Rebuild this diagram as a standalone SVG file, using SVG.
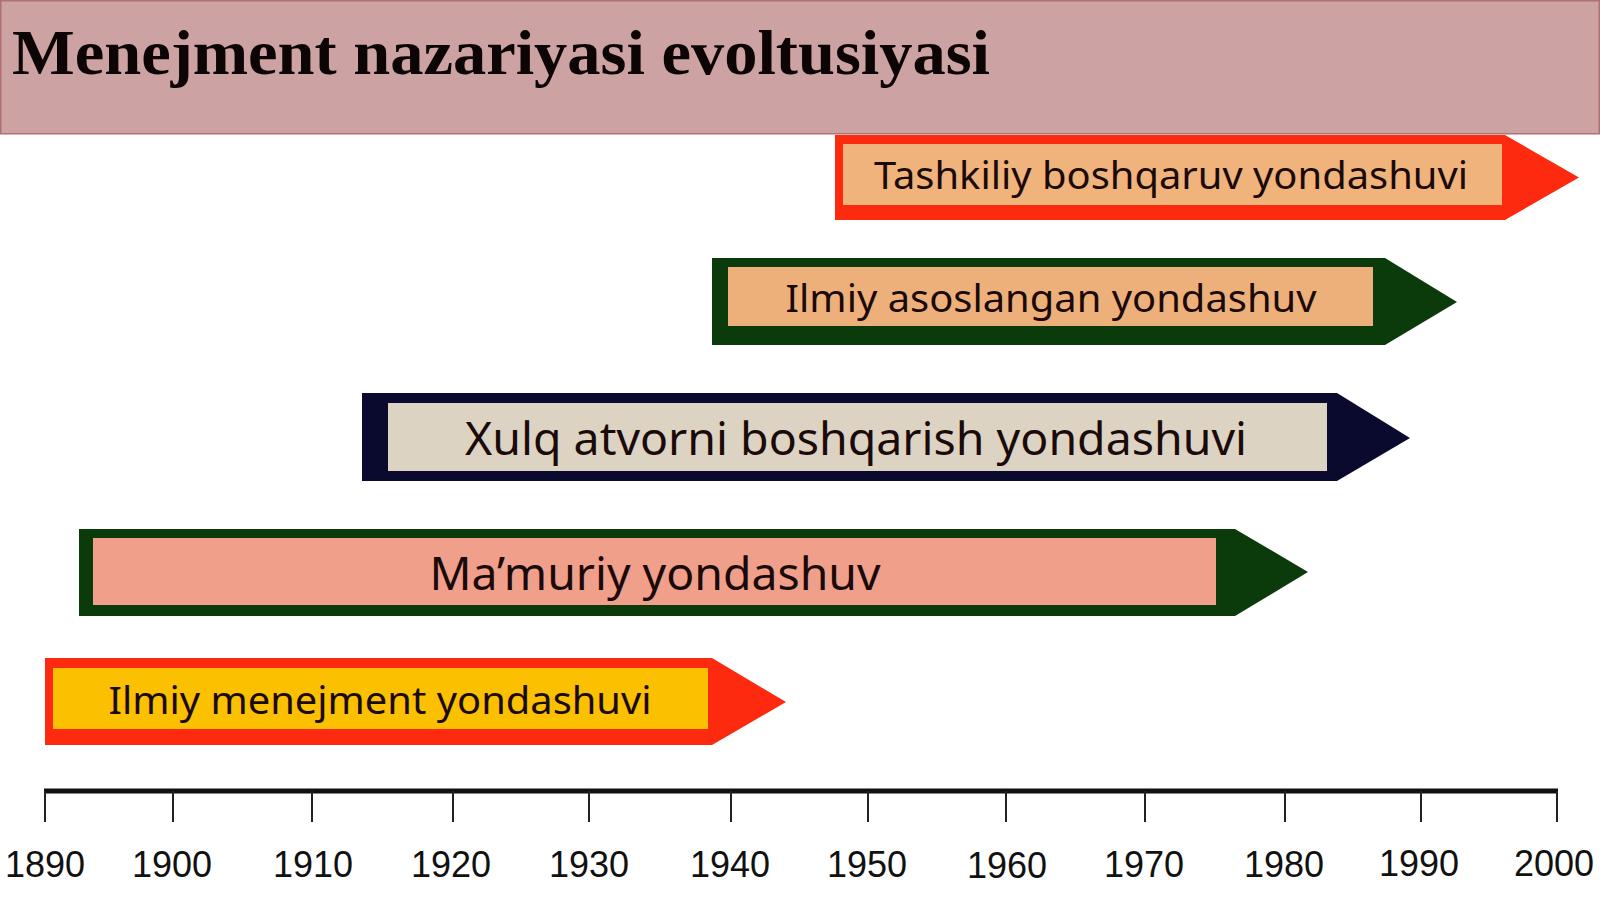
<svg xmlns="http://www.w3.org/2000/svg" width="1600" height="899" viewBox="0 0 1600 899">
<style>
.lbl{font-family:"Noto Sans","Open Sans",sans-serif;fill:#1a0a0a;text-anchor:middle}
.yr{font-family:"Liberation Sans",Arial,sans-serif;font-size:36px;fill:#111;text-anchor:middle}
.tick{stroke:#222;stroke-width:2}
</style>
<rect width="1600" height="899" fill="#ffffff"/>
<g id="header">
<rect x="0.75" y="0.75" width="1598.5" height="133" fill="#cca3a2" stroke="#b07070" stroke-width="1.5"/>
<text x="12" y="73.5" font-family="'Liberation Serif','Times New Roman',serif" font-weight="bold" font-size="63" fill="#0d0505" textLength="978" lengthAdjust="spacingAndGlyphs">Menejment nazariyasi evoltusiyasi</text>
</g>
<g id="n-tashkiliy">
<polygon points="835,135 1505,135 1579,177.5 1505,220 835,220" fill="#fe2a10"/>
<rect x="843" y="144" width="659" height="61" fill="#efb37b"/>
<text class="lbl" x="1171" y="189" font-size="39" textLength="594" lengthAdjust="spacingAndGlyphs">Tashkiliy boshqaruv yondashuvi</text>
</g>
<g id="n-ilmiy-asoslangan">
<polygon points="712,258 1385,258 1457,302 1385,345 712,345" fill="#0b3a0b"/>
<rect x="728" y="267" width="645" height="59" fill="#eeb07a"/>
<text class="lbl" x="1051" y="312" font-size="39" textLength="531" lengthAdjust="spacingAndGlyphs">Ilmiy asoslangan yondashuv</text>
</g>
<g id="n-xulq">
<polygon points="362,393 1337,393 1410,438 1337,481 362,481" fill="#0a0a2e"/>
<rect x="388" y="403" width="939" height="68" fill="#ddd3c3"/>
<text class="lbl" x="856" y="455" font-size="45" textLength="782" lengthAdjust="spacingAndGlyphs">Xulq atvorni boshqarish yondashuvi</text>
</g>
<g id="n-mamuriy">
<polygon points="79,529 1235,529 1308,572 1235,616 79,616" fill="#0b3a0b"/>
<rect x="93" y="538" width="1123" height="67" fill="#f0a08a"/>
<text class="lbl" x="655" y="590" font-size="45" textLength="451" lengthAdjust="spacingAndGlyphs">Ma’muriy yondashuv</text>
</g>
<g id="n-ilmiy-menejment">
<polygon points="45,658 712,658 786,702 712,745 45,745" fill="#fe2a10"/>
<rect x="53" y="668" width="655" height="61" fill="#fbc000"/>
<text class="lbl" x="380" y="714" font-size="39" textLength="543" lengthAdjust="spacingAndGlyphs">Ilmiy menejment yondashuvi</text>
</g>
<g id="axis">
<line x1="44" y1="791" x2="1558" y2="791" stroke="#111" stroke-width="5"/>
<line class="tick" x1="45" y1="791" x2="45" y2="822"/>
<line class="tick" x1="173" y1="791" x2="173" y2="822"/>
<line class="tick" x1="312" y1="791" x2="312" y2="822"/>
<line class="tick" x1="453" y1="791" x2="453" y2="822"/>
<line class="tick" x1="589" y1="791" x2="589" y2="822"/>
<line class="tick" x1="731" y1="791" x2="731" y2="822"/>
<line class="tick" x1="868" y1="791" x2="868" y2="822"/>
<line class="tick" x1="1006" y1="791" x2="1006" y2="822"/>
<line class="tick" x1="1145" y1="791" x2="1145" y2="822"/>
<line class="tick" x1="1285" y1="791" x2="1285" y2="822"/>
<line class="tick" x1="1421" y1="791" x2="1421" y2="822"/>
<line class="tick" x1="1557" y1="791" x2="1557" y2="822"/>
<text class="yr" x="45" y="877">1890</text>
<text class="yr" x="172" y="877">1900</text>
<text class="yr" x="313" y="877">1910</text>
<text class="yr" x="451" y="877">1920</text>
<text class="yr" x="589" y="877">1930</text>
<text class="yr" x="730" y="877">1940</text>
<text class="yr" x="867" y="877">1950</text>
<text class="yr" x="1007" y="878">1960</text>
<text class="yr" x="1144" y="877">1970</text>
<text class="yr" x="1284" y="877">1980</text>
<text class="yr" x="1419" y="876">1990</text>
<text class="yr" x="1554" y="876">2000</text>
</g>
</svg>
